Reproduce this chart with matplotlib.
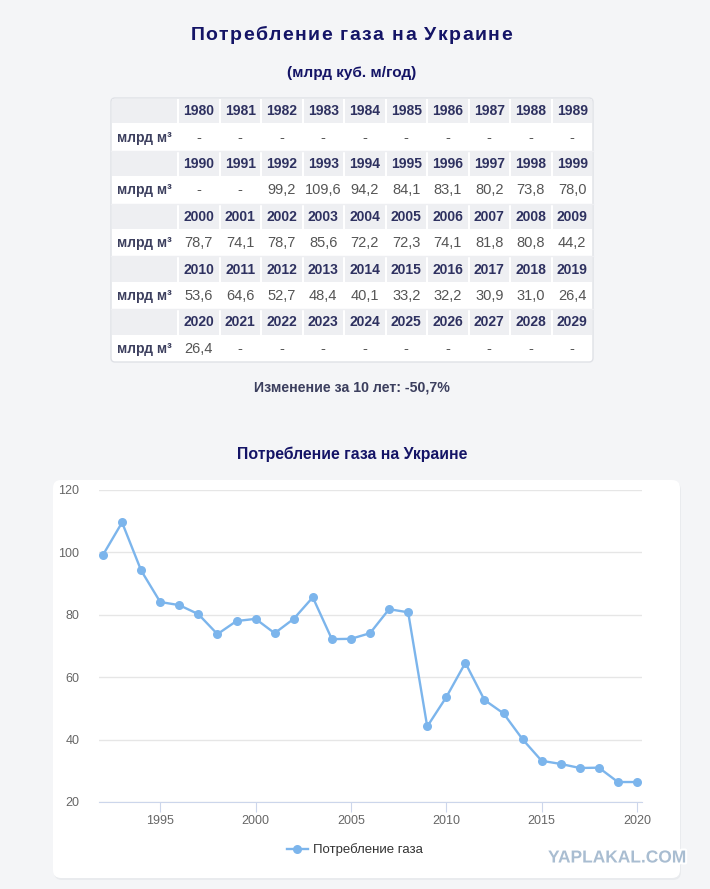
import matplotlib
matplotlib.use('Agg')
from matplotlib import pyplot as plt
from matplotlib.patches import Rectangle, FancyBboxPatch
import matplotlib.patheffects as pe

years = list(range(1980, 2030))
values = [None] * 12 + [99.2, 109.6, 94.2, 84.1, 83.1, 80.2, 73.8, 78.0,
                        78.7, 74.1, 78.7, 85.6, 72.2, 72.3, 74.1, 81.8, 80.8, 44.2,
                        53.6, 64.6, 52.7, 48.4, 40.1, 33.2, 32.2, 30.9, 31.0, 26.4,
                        26.4] + [None] * 9
row_label = 'млрд м³'
title = 'Потребление газа на Украине'
subtitle = '(млрд куб. м/год)'
change_text = 'Изменение за 10 лет: -50,7%'
series_name = 'Потребление газа'

W, H = 710, 889
fig = plt.figure(figsize=(W / 100, H / 100), dpi=100)
fig.patch.set_facecolor('#f4f5f7')

bg = fig.add_axes([0, 0, 1, 1])
bg.set_xlim(0, W)
bg.set_ylim(H, 0)
bg.axis('off')

navy = '#141466'
sans = ['Liberation Sans', 'DejaVu Sans']
narrow = ['Liberation Sans Narrow', 'Liberation Sans', 'DejaVu Sans']


def spaced_text(ax, xc, y, s, spacing, **kw):
    # matplotlib has no letter-spacing, so place characters one by one
    r = fig.canvas.get_renderer()
    widths = []
    for ch in s:
        t = ax.text(0, 0, ch if ch != ' ' else 'a', **kw)
        bb = t.get_window_extent(renderer=r)
        widths.append(bb.width if ch != ' ' else bb.width * 0.5)
        t.remove()
    total = sum(widths) + spacing * (len(s) - 1)
    x = xc - total / 2
    for ch, w in zip(s, widths):
        ax.text(x, y, ch, ha='left', va='center', **kw)
        x += w + spacing


spaced_text(bg, 351, 35, title, 1.4, fontsize=14, fontweight='bold', color=navy, family=sans)
bg.text(352, 73, subtitle, ha='center', va='center', fontsize=11, fontweight='bold',
        color=navy, family=sans)

# table
tx0, ty0 = 111, 98
lab_w = 67
col_w = 41.5
row_h = 26.4
tbl_w = lab_w + 10 * col_w
bg.add_patch(FancyBboxPatch((tx0, ty0), tbl_w, 5 * 2 * row_h,
                            boxstyle='round,pad=0,rounding_size=4',
                            fc='white', ec='#dfe1e6', lw=1, zorder=1))
for r in range(5):
    yh = ty0 + 2 * r * row_h
    yd = yh + row_h
    bg.add_patch(Rectangle((tx0 + 1, yh + 1), lab_w - 2, row_h - 2, fc='#eeeff2',
                           ec='none', zorder=2))
    bg.text(tx0 + lab_w / 2, yd + row_h / 2, row_label, ha='center', va='center',
            fontsize=10, fontweight='bold', color='#3c3f5e', family=sans, zorder=3)
    for c in range(10):
        i = r * 10 + c
        x = tx0 + lab_w + c * col_w
        bg.add_patch(Rectangle((x + 1, yh + 1), col_w - 2, row_h - 2, fc='#eeeff2',
                               ec='none', zorder=2))
        bg.text(x + col_w / 2, yh + row_h / 2, str(years[i]), ha='center', va='center',
                fontsize=10, fontweight='bold', color='#2e3160', family=sans, zorder=3)
        v = values[i]
        s = '-' if v is None else f'{v:.1f}'.replace('.', ',')
        bg.text(x + col_w / 2, yd + row_h / 2, s, ha='center', va='center',
                fontsize=10.5, color='#555555', family=sans, zorder=3)
    if r < 4:
        bg.plot([tx0, tx0 + tbl_w], [yd + row_h, yd + row_h], color='#eeeff2', lw=1, zorder=2)

bg.text(352, 387, change_text, ha='center', va='center', fontsize=10.2, fontweight='bold',
        color='#3c3f5e', family=sans)

bg.text(352, 454, title, ha='center', va='center', fontsize=11.4, fontweight='bold',
        color=navy, family=sans)

# chart panel
bg.add_patch(FancyBboxPatch((54, 482), 627, 398, boxstyle='round,pad=0,rounding_size=8',
                            fc='#e9ebee', ec='none', zorder=0))
bg.add_patch(FancyBboxPatch((53, 480), 627, 398, boxstyle='round,pad=0,rounding_size=8',
                            fc='white', ec='none', zorder=1))

wm = bg.text(686, 858, 'YAPLAKAL.COM', ha='right', va='center', fontsize=12.5,
             fontweight='bold', color='#a9bdd1', family=narrow, zorder=5)
wm.set_path_effects([pe.withStroke(linewidth=3, foreground='white')])

# chart
ax_l, ax_r, ax_t, ax_b = 99, 642, 490, 802
ax = fig.add_axes([ax_l / W, 1 - ax_b / H, (ax_r - ax_l) / W, (ax_b - ax_t) / H])
ax.set_facecolor('none')
px_per_year = (637 - 103) / 28
ax.set_xlim(1992 - (103 - ax_l) / px_per_year, 2020 + (ax_r - 637) / px_per_year)
ax.set_ylim(20, 120)

cx = [y for y, v in zip(years, values) if v is not None]
cy = [v for v in values if v is not None]
line, = ax.plot(cx, cy, color='#7cb5ec', lw=1.7, marker='o', markersize=6.5,
                markeredgewidth=0, label=series_name, zorder=3)

ax.set_yticks([20, 40, 60, 80, 100, 120])
ax.set_xticks([1995, 2000, 2005, 2010, 2015, 2020])
ax.grid(axis='y', color='#e6e6e6', lw=1)
ax.set_axisbelow(True)
for s in ['top', 'right', 'left']:
    ax.spines[s].set_visible(False)
ax.spines['bottom'].set_color('#ccd6eb')
ax.tick_params(axis='y', length=0, pad=14, labelsize=9, labelcolor='#666666')
ax.tick_params(axis='x', length=7, color='#ccd6eb', pad=2, labelsize=9,
               labelcolor='#666666')
for lbl in ax.get_xticklabels() + ax.get_yticklabels():
    lbl.set_family(narrow)

leg = fig.legend(handles=[line], loc='center', bbox_to_anchor=(355 / W, 1 - 850 / H),
                 frameon=False, handlelength=1.6, handletextpad=0.4,
                 prop={'family': narrow, 'size': 9.5})
for t in leg.get_texts():
    t.set_color('#333333')

fig.savefig('out.png', dpi=100, facecolor=fig.get_facecolor())
